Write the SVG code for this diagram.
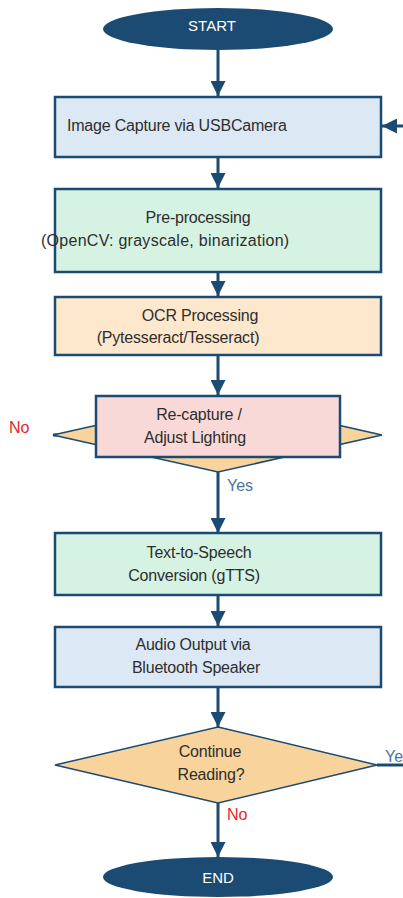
<svg xmlns="http://www.w3.org/2000/svg" width="403" height="898" viewBox="0 0 403 898">
  <defs>
    <style>
      .term { fill: #1b4a72; }
      .box { stroke: #1b4a72; stroke-width: 2.5; }
      .dia { fill: #f8d49c; stroke: #1b4a72; stroke-width: 1.5; }
      .blue { fill: #dce9f5; }
      .green { fill: #d5f2e2; }
      .peach { fill: #fde8cd; }
      .pink { fill: #f8d9d7; }
      .t { font-family: "Liberation Sans", Arial, sans-serif; font-size: 16px; fill: #2e2e2e; letter-spacing: -0.2px; }
      .tw { font-family: "Liberation Sans", Arial, sans-serif; font-size: 15px; fill: #ffffff; }
      .no { font-family: "Liberation Sans", Arial, sans-serif; font-size: 16px; fill: #e8262a; }
      .yes { font-family: "Liberation Sans", Arial, sans-serif; font-size: 16px; fill: #4e7399; }
      .edge { stroke: #1b4a72; stroke-width: 3; fill: none; }
    </style>
    <marker id="arrow" viewBox="0 0 10 10" refX="10" refY="5" markerWidth="5" markerHeight="5" markerUnits="strokeWidth" orient="auto">
      <path d="M0,0 L10,5 L0,10 z" fill="#1b4a72"/>
    </marker>
  </defs>

  <!-- connectors -->
  <g id="connectors">
    <line class="edge" x1="218" y1="50" x2="218" y2="96" marker-end="url(#arrow)"/>
    <line class="edge" x1="218" y1="157" x2="218" y2="188" marker-end="url(#arrow)"/>
    <line class="edge" x1="218" y1="272" x2="218" y2="296" marker-end="url(#arrow)"/>
    <line class="edge" x1="218" y1="355" x2="218" y2="395" marker-end="url(#arrow)"/>
    <line class="edge" x1="218" y1="472" x2="218" y2="533" marker-end="url(#arrow)"/>
    <line class="edge" x1="218" y1="595" x2="218" y2="626" marker-end="url(#arrow)"/>
    <line class="edge" x1="218" y1="687" x2="218" y2="727" marker-end="url(#arrow)"/>
    <line class="edge" x1="218" y1="803" x2="218" y2="857" marker-end="url(#arrow)"/>
    <!-- loop back from "Continue Reading?" (Yes) -->
    <line class="edge" x1="377" y1="765" x2="403" y2="765"/>
    <line class="edge" x1="403" y1="126" x2="382" y2="126" marker-end="url(#arrow)"/>
    <!-- "No" branch of the quality check -->
    <line class="edge" x1="53" y1="435" x2="82" y2="435" stroke-width="2"/>
    <text class="no" x="9" y="433">No</text>
    <text class="yes" x="227" y="491">Yes</text>
    <text class="yes" x="385" y="762">Ye</text>
    <text class="no" x="227" y="820">No</text>
  </g>

  <g id="start">
    <ellipse class="term" cx="218" cy="29" rx="115" ry="21"/>
    <text class="tw" x="212" y="31" text-anchor="middle">START</text>
  </g>

  <g id="capture">
    <rect class="box blue" x="55" y="97" width="326" height="60"/>
    <text class="t" x="67" y="131">Image Capture via USBCamera</text>
  </g>

  <g id="preprocess">
    <rect class="box green" x="55" y="189" width="326" height="83"/>
    <text class="t" x="198" y="223" text-anchor="middle">Pre-processing</text>
    <text class="t" x="165" y="246" text-anchor="middle" textLength="248">(OpenCV: grayscale, binarization)</text>
  </g>

  <g id="ocr">
    <rect class="box peach" x="55" y="297" width="326" height="58"/>
    <text class="t" x="200" y="321" text-anchor="middle">OCR Processing</text>
    <text class="t" x="178" y="343" text-anchor="middle">(Pytesseract/Tesseract)</text>
  </g>

  <g id="quality-check">
    <polygon class="dia" points="218,398 382,435 218,472 53,435"/>
  </g>

  <g id="recapture">
    <rect class="box pink" x="96" y="396" width="244" height="61"/>
    <text class="t" x="199" y="420" text-anchor="middle">Re-capture /</text>
    <text class="t" x="195" y="443" text-anchor="middle">Adjust Lighting</text>
  </g>

  <g id="tts">
    <rect class="box green" x="55" y="533" width="326" height="62"/>
    <text class="t" x="199" y="558" text-anchor="middle">Text-to-Speech</text>
    <text class="t" x="194" y="581" text-anchor="middle">Conversion (gTTS)</text>
  </g>

  <g id="audio">
    <rect class="box blue" x="55" y="627" width="326" height="60"/>
    <text class="t" x="193" y="650" text-anchor="middle">Audio Output via</text>
    <text class="t" x="196" y="673" text-anchor="middle">Bluetooth Speaker</text>
  </g>

  <g id="continue">
    <polygon class="dia" points="218,727 377,765 218,803 55,765"/>
    <text class="t" x="210" y="757" text-anchor="middle">Continue</text>
    <text class="t" x="211" y="780" text-anchor="middle">Reading?</text>
  </g>

  <g id="end">
    <ellipse class="term" cx="218" cy="877" rx="115" ry="20"/>
    <text class="tw" x="218" y="883" text-anchor="middle">END</text>
  </g>
</svg>
